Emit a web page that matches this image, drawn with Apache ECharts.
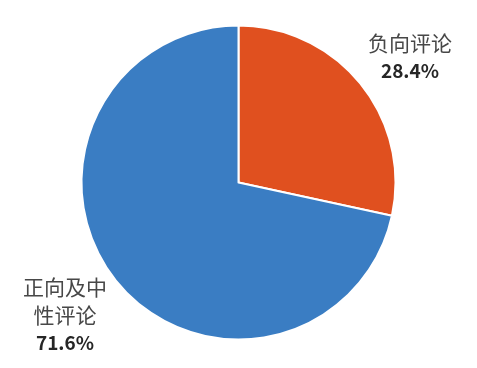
<!DOCTYPE html>
<html>
<head>
<meta charset="utf-8">
<script src="https://cdn.jsdelivr.net/npm/echarts@6/dist/echarts.min.js"></script>
<style>
  html, body { margin: 0; padding: 0; background: #ffffff; }
  #chart { width: 477px; height: 368px; }
</style>
</head>
<body>
<div id="chart"></div>
<script>
// Share of review sentiment (%)
const categories = ['负向评论', '正向及中\n性评论'];
const shares = [28.4, 71.6];
const colors = ['#E0501F', '#3A7DC3'];

// Label anchor points (pixels) for each slice
const labelAnchors = [
  { x: 410, y: 57 },
  { x: 65, y: 315 }
];

const chart = echarts.init(document.getElementById('chart'), null, { renderer: 'canvas' });

chart.setOption({
  animation: false,
  backgroundColor: '#ffffff',
  series: [{
    type: 'pie',
    center: [238.5, 182.5],
    radius: 157,
    startAngle: 90,
    clockwise: true,
    avoidLabelOverlap: false,
    itemStyle: { borderColor: '#ffffff', borderWidth: 2 },
    labelLine: { show: false },
    label: {
      show: true,
      position: 'outside',
      fontFamily: '"Noto Sans CJK SC", "Noto Sans", sans-serif',
      formatter: function (p) {
        const nameLines = p.name.split('\n').map(s => '{n|' + s + '}').join('\n');
        return nameLines + '\n{p|' + p.value.toFixed(1) + '%}';
      },
      rich: {
        n: {
          fontSize: 21,
          color: '#474747',
          lineHeight: 28,
          fontFamily: '"Noto Sans CJK SC", sans-serif'
        },
        p: {
          fontSize: 19,
          fontWeight: 'bold',
          color: '#262626',
          lineHeight: 28,
          fontFamily: '"Noto Sans CJK SC", sans-serif'
        }
      }
    },
    labelLayout: function (params) {
      const a = labelAnchors[params.dataIndex];
      return { x: a.x, y: a.y, align: 'center', verticalAlign: 'middle' };
    },
    data: categories.map((name, i) => ({
      name: name,
      value: shares[i],
      itemStyle: { color: colors[i] }
    }))
  }]
});
</script>
</body>
</html>
